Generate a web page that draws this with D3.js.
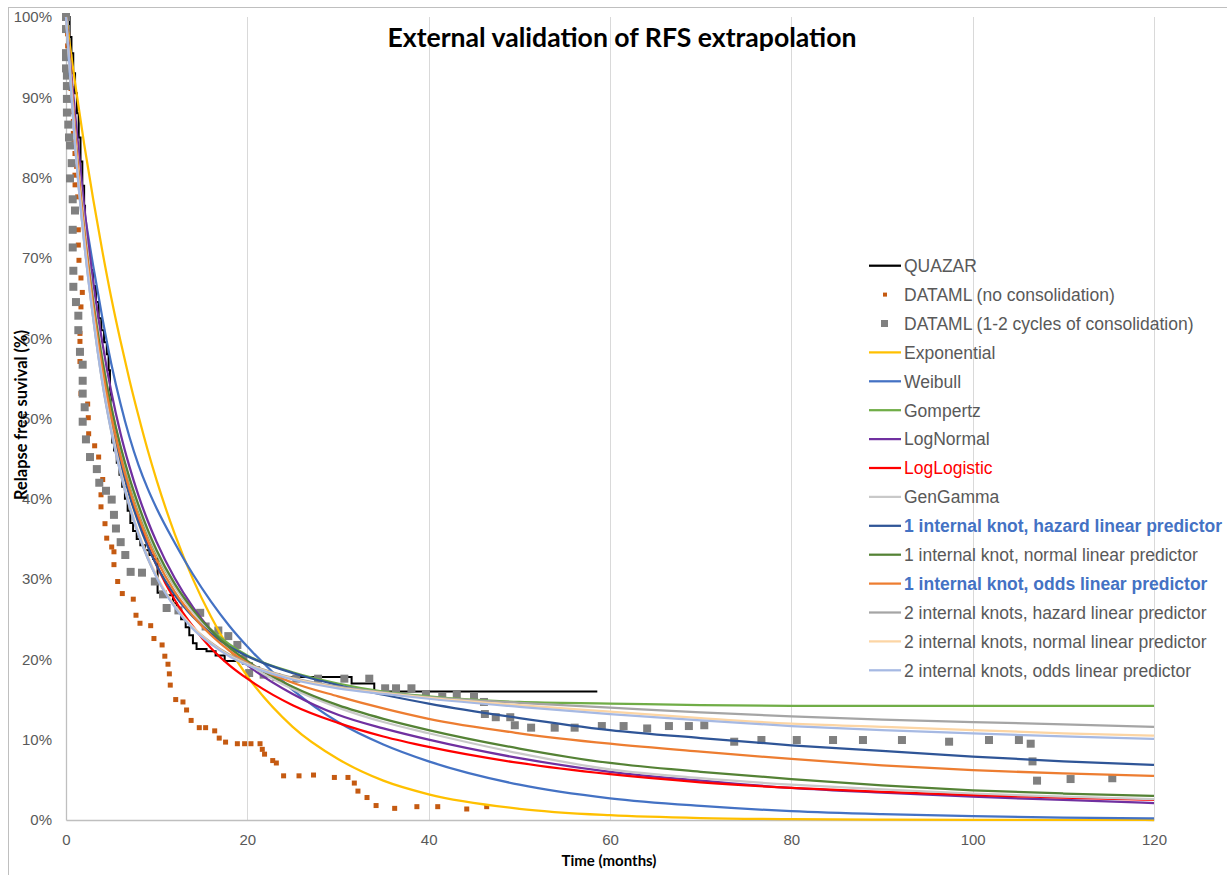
<!DOCTYPE html>
<html>
<head>
<meta charset="utf-8">
<script src="https://cdn.jsdelivr.net/npm/d3@7"></script>
<style>
  html, body { margin: 0; padding: 0; background: #ffffff; }
  svg { display: block; }
</style>
</head>
<body>
<svg id="chart" width="1227" height="875"></svg>
<script>
// ---------- Data ----------
// Time grid (months) for the fitted survival models
const months = [0,1,2,3,4,5,6,7,8,9,10,12,14,16,18,20,25,30,35,40,50,60,70,80,90,100,110,120];

// Relapse-free survival (%) of each fitted model on the grid above
const exponential = [100,91.8,84.2,77.3,70.9,65.0,59.7,54.8,50.3,46.1,42.3,35.6,30.0,25.3,21.3,17.9,11.6,7.6,4.9,3.2,1.4,0.6,0.24,0.1,0.05,0.02,0.01,0.0];
const weibull     = [100,84.5,76,69,62.6,56.8,51.9,47.7,44.2,41.3,38.8,34.5,30.6,27.2,24.2,21.6,16.2,12.2,9.4,7.3,4.4,2.7,1.75,1.1,0.72,0.47,0.31,0.21];
const gompertz    = [100,85.5,74.1,64.8,57.4,51.3,46.3,42.1,38.6,35.6,33.1,29.1,26.0,23.7,21.9,20.5,18.4,17.0,16.0,15.4,14.7,14.5,14.3,14.2,14.2,14.2,14.2,14.2];
const logNormal   = [100,88,76.5,67,59.5,53.3,48.2,44.0,40.4,37.3,34.6,30.1,26.5,23.6,21.2,19.3,15.7,13.1,11.4,10.0,7.7,6.0,4.9,4.0,3.4,2.9,2.5,2.1];
const logLogistic = [100,86,73.5,64,56.5,50.3,45.2,41.0,37.4,34.3,31.7,27.4,24.1,21.4,19.3,17.6,14.3,12.1,10.4,9.1,7.1,5.7,4.7,4.0,3.5,3.1,2.8,2.5];
const genGamma    = [100,86,74.5,65,57.5,51.5,46.5,42.4,38.9,35.9,33.3,29.1,25.9,23.3,21.2,19.5,16.3,14.0,12.2,10.8,8.3,6.3,5.2,4.4,3.8,3.3,2.9,2.6];
const knot1Hazard = [100,85,73,63.5,55.8,49.5,44.5,40.4,37.0,34.1,31.7,28.0,25.3,23.2,21.6,20.4,18.3,16.8,15.6,14.5,12.7,11.2,10.2,9.3,8.6,7.9,7.3,6.85];
const knot1Normal = [100,85,73.5,64.5,57.3,51.4,46.6,42.6,39.2,36.2,33.6,29.4,26.2,23.6,21.5,19.8,16.6,14.3,12.6,11.2,8.9,7.1,6.0,5.1,4.3,3.7,3.3,3.0];
const knot1Odds   = [100,85.5,73.5,64,56.3,50.2,45.3,41.2,37.8,34.9,32.4,28.4,25.4,23.0,21.1,19.6,17.1,15.4,13.9,12.6,10.8,9.5,8.5,7.6,6.8,6.2,5.8,5.5];
const knot2Hazard = [100,84,72,62.5,54.5,48.3,43.2,39.0,35.5,32.6,30.2,26.6,24.0,22.1,20.6,19.5,17.7,16.6,15.9,15.3,14.6,14.0,13.4,12.9,12.5,12.2,11.9,11.6];
const knot2Normal = [100,84.5,72.5,63,55,48.8,43.6,39.3,35.8,32.9,30.4,26.7,24.0,22.0,20.5,19.4,17.6,16.5,15.8,15.2,14.3,13.5,12.7,12.0,11.6,11.2,10.8,10.5];
const knot2Odds   = [100,84,72,62.5,54.6,48.4,43.3,39.1,35.6,32.7,30.2,26.5,23.8,21.9,20.4,19.3,17.5,16.4,15.7,15.1,14.1,13.2,12.4,11.7,11.2,10.8,10.4,10.1];

// QUAZAR Kaplan-Meier estimate (step after each time)
const quazarMonths = [0,0.4,0.6,0.8,1.0,1.2,1.4,1.6,1.8,2.0,2.1,2.2,2.4,2.7,3.0,3.3,3.6,3.9,4.2,4.5,4.7,4.85,4.95,5.1,5.3,5.6,5.9,6.2,6.5,6.8,7.1,7.4,7.8,8.2,8.7,9.2,9.6,10.1,10.6,11.8,12.2,12.7,13.2,13.6,14.0,14.4,15.5,16.5,17.5,19.5,20.5,21.3,22.0,23.0,31.5,34.0,58.6];
const quazarRfs    = [100,97.5,95.5,93,90.5,88,85,82,79,76.5,74.5,72,70,68.5,66.5,64.5,62.5,61,59.5,58,56,53,49,47,46,44.5,43,41.5,40,38.5,37,36,35,34.2,33.6,33.0,32.5,28.3,28.0,27.0,26.0,25.0,24.0,23.0,22.0,21.3,21.0,20.5,19.8,19.5,19.0,18.5,18.1,17.8,17.0,16.0,16.0];

// DATAML, no consolidation (digitised points)
const datamlNoMonths = [0.18,0.18,0.33,0.44,0.55,0.62,0.73,0.81,0.81,0.88,0.99,1.17,0.99,1.0,1.29,1.36,1.36,1.43,1.65,1.8,1.65,1.54,1.54,1.54,1.65,2.39,2.46,2.5,3.16,3.6,4.05,3.86,3.86,4.3,4.49,5.04,5.29,5.29,5.7,6.21,7.42,7.72,8.16,9.34,9.7,10.6,10.9,11.25,11.4,11.5,12.1,12.9,13.3,13.8,14.7,15.4,16.4,16.9,17.6,18.9,19.7,20.4,21.4,21.65,21.9,22.8,23.2,24.0,25.7,27.3,29.6,31.1,31.8,32.2,33.2,34.2,36.25,38.7,41.0,44.2,46.4];
const datamlNoRfs    = [97.9,96.4,95.0,93.2,91.1,89.7,88.2,87.0,85.5,84.5,83.0,81.4,80.3,79.1,77.6,73.5,71.6,69.7,67.5,65.7,63.9,60.6,59.6,57.1,53.1,51.8,50.1,48.1,46.6,45.2,42.4,40.5,39.0,36.9,35.1,34.0,33.4,31.8,29.7,28.2,27.5,25.5,24.5,24.2,22.6,21.8,20.4,19.4,18.2,16.8,15.0,14.7,13.7,12.4,11.5,11.5,11.1,10.2,9.7,9.5,9.5,9.5,9.5,8.8,8.2,7.4,7.1,5.5,5.5,5.6,5.3,5.3,4.6,3.6,2.8,1.8,1.45,1.66,1.66,1.37,1.66];

const datamlConsMonths = [0,0,0,0,0,0.1,0.1,0.1,0.1,0.25,0.33,0.44,0.63,0.44,0.74,0.99,0.74,0.74,0.81,0.81,1.1,1.36,1.36,1.54,1.84,1.84,1.84,2.06,1.84,2.2,2.65,3.4,3.67,4.41,5.04,5.29,5.51,6.03,6.54,7.13,8.38,9.8,10.7,11.1,12.4,14.8,15.4,16.8,17.9,18.9,19.55,20.2,21.8,23.2,25.4,27.8,30.7,33.45,35.2,36.4,38.1,39.7,41.5,43.1,45.0,46.1,46.2,47.4,49.0,49.5,51.3,53.9,56.1,59.1,61.5,64.1,66.5,68.7,70.4,73.7,76.7,80.6,84.6,87.9,92.2,97.4,101.8,105.1,106.4,106.6,107.1,110.8,115.4];
const datamlConsRfs    = [100,98.5,95.5,95.0,93.6,92.7,91.4,89.8,88.1,86.6,85.0,84.0,81.8,79.9,77.3,75.9,73.5,71.3,68.4,66.4,64.5,62.8,61.0,58.3,56.7,54.7,53.1,51.4,49.6,47.4,45.2,43.7,42.0,41.0,39.9,38.0,36.3,34.6,33.0,30.9,30.8,29.7,28.1,26.4,26.1,25.8,24.1,23.6,22.9,21.8,20.1,18.3,18.1,17.8,17.6,17.6,17.6,17.6,16.4,16.4,16.4,15.6,15.4,15.6,15.4,14.7,13.2,12.8,12.8,11.8,11.5,11.5,11.5,11.7,11.7,11.4,11.7,11.7,11.8,9.75,9.96,9.96,9.96,9.96,9.96,9.75,9.96,9.96,9.5,7.3,4.9,5.1,5.2];

// Axis ticks
const xTicks = [0,20,40,60,80,100,120];
const yTicks = [0,10,20,30,40,50,60,70,80,90,100];

// ---------- Series styling ----------
const modelSeries = [
  { name: "Exponential", values: exponential, color: "#FFC000" },
  { name: "Weibull", values: weibull, color: "#4472C4" },
  { name: "Gompertz", values: gompertz, color: "#70AD47" },
  { name: "LogNormal", values: logNormal, color: "#7030A0" },
  { name: "LogLogistic", values: logLogistic, color: "#FF0000", textColor: "#FF0000" },
  { name: "GenGamma", values: genGamma, color: "#C9C9C9" },
  { name: "1 internal knot, hazard linear predictor", values: knot1Hazard, color: "#2F5597", textColor: "#4472C4", bold: true },
  { name: "1 internal knot, normal linear predictor", values: knot1Normal, color: "#548235" },
  { name: "1 internal knot, odds linear predictor", values: knot1Odds, color: "#ED7D31", textColor: "#4472C4", bold: true },
  { name: "2 internal knots, hazard linear predictor", values: knot2Hazard, color: "#A5A5A5" },
  { name: "2 internal knots, normal linear predictor", values: knot2Normal, color: "#FCD5A4" },
  { name: "2 internal knots, odds linear predictor", values: knot2Odds, color: "#A6B9E3" }
];

// ---------- Layout ----------
const svg = d3.select("#chart");
const W = 1227, H = 875;
const plot = { left: 66, right: 1154, top: 17, bottom: 820 };

const x = d3.scaleLinear().domain([0, 120]).range([plot.left, plot.right]);
const y = d3.scaleLinear().domain([0, 100]).range([plot.bottom, plot.top]);

svg.append("rect").attr("width", W).attr("height", H).attr("fill", "#ffffff");

// chart frame
svg.append("rect")
  .attr("x", 8.5).attr("y", 7.5)
  .attr("width", W + 50).attr("height", H + 50)
  .attr("fill", "none").attr("stroke", "#BFBFBF").attr("stroke-width", 1);

// vertical gridlines
svg.append("g")
  .selectAll("line")
  .data(xTicks.filter(d => d > 0))
  .join("line")
  .attr("x1", d => Math.round(x(d)) + 0.5).attr("x2", d => Math.round(x(d)) + 0.5)
  .attr("y1", plot.top).attr("y2", plot.bottom)
  .attr("stroke", "#D9D9D9").attr("stroke-width", 1);

// axes
const tickFont = "'Liberation Sans', Arial, sans-serif";
const xAxis = svg.append("g")
  .attr("transform", `translate(0,${plot.bottom})`)
  .call(d3.axisBottom(x).tickValues(xTicks).tickSize(0).tickPadding(14).tickFormat(d3.format("d")));
xAxis.select(".domain").attr("stroke", "#BFBFBF").attr("stroke-width", 1.3);
xAxis.selectAll("text").attr("fill", "#595959").attr("font-size", 15).attr("font-family", tickFont);

const yAxis = svg.append("g")
  .attr("transform", `translate(${plot.left},0)`)
  .call(d3.axisLeft(y).tickValues(yTicks).tickSize(0).tickPadding(14).tickFormat(d => d + "%"));
yAxis.select(".domain").attr("stroke", "#BFBFBF").attr("stroke-width", 1.3);
yAxis.selectAll("text").attr("fill", "#595959").attr("font-size", 15).attr("font-family", tickFont);

// ---------- Marks ----------
const g = svg.append("g");

// QUAZAR Kaplan-Meier
const quazar = quazarMonths.map((t, i) => [t, quazarRfs[i]]);
g.append("path")
  .datum(quazar)
  .attr("fill", "none").attr("stroke", "#000000").attr("stroke-width", 2)
  .attr("d", d3.line().x(d => x(d[0])).y(d => y(d[1])).curve(d3.curveStepAfter));

// DATAML no consolidation
const datamlNo = datamlNoMonths.map((t, i) => [t, datamlNoRfs[i]]);
g.append("g").selectAll("rect")
  .data(datamlNo).join("rect")
  .attr("x", d => x(d[0]) - 2.5).attr("y", d => y(d[1]) - 2.5)
  .attr("width", 5).attr("height", 5).attr("fill", "#C55A11");

// DATAML 1-2 cycles of consolidation
const datamlCons = datamlConsMonths.map((t, i) => [t, datamlConsRfs[i]]);
g.append("g").selectAll("rect")
  .data(datamlCons).join("rect")
  .attr("x", d => x(d[0]) - 4).attr("y", d => y(d[1]) - 4)
  .attr("width", 8).attr("height", 8).attr("fill", "#808080");

// fitted models
const modelLine = d3.line()
  .x((d, i) => x(months[i]))
  .y(d => y(d))
  .curve(d3.curveMonotoneX);

g.append("g").selectAll("path")
  .data(modelSeries).join("path")
  .attr("fill", "none")
  .attr("stroke", d => d.color)
  .attr("stroke-width", 2.25)
  .attr("d", d => modelLine(d.values));

// ---------- Title ----------
const titleFont = "Lato, 'Open Sans', sans-serif";
function fitWidth(sel, target) {
  const w = sel.node().getComputedTextLength();
  const fs = parseFloat(sel.attr("font-size"));
  sel.attr("font-size", (fs * target / w).toFixed(2));
}

const title = svg.append("text")
  .attr("x", 622).attr("y", 47)
  .attr("text-anchor", "middle")
  .attr("font-family", titleFont).attr("font-weight", "bold")
  .attr("font-size", 24).attr("fill", "#000000")
  .text("External validation of RFS extrapolation");
fitWidth(title, 469);

const xTitle = svg.append("text")
  .attr("x", 609).attr("y", 866)
  .attr("text-anchor", "middle")
  .attr("font-family", titleFont).attr("font-weight", "bold")
  .attr("font-size", 14).attr("fill", "#000000")
  .text("Time (months)");
fitWidth(xTitle, 95);

const yTitle = svg.append("text")
  .attr("transform", "translate(27,415) rotate(-90)")
  .attr("text-anchor", "middle")
  .attr("font-family", titleFont).attr("font-weight", "bold")
  .attr("font-size", 14).attr("fill", "#000000")
  .text("Relapse free suvival (%)");
fitWidth(yTitle, 170);

// ---------- Legend ----------
const legendItems = [
  { name: "QUAZAR", kind: "line", color: "#000000" },
  { name: "DATAML (no consolidation)", kind: "smallSquare", color: "#C55A11" },
  { name: "DATAML (1-2 cycles of consolidation)", kind: "square", color: "#808080" }
].concat(modelSeries.map(s => ({ name: s.name, kind: "line", color: s.color, textColor: s.textColor, bold: s.bold })));

const legend = svg.append("g").attr("font-family", tickFont);
const legendRow = legend.selectAll("g")
  .data(legendItems).join("g")
  .attr("transform", (d, i) => `translate(0,${265.7 + i * 28.9})`);

legendRow.filter(d => d.kind === "line").append("line")
  .attr("x1", 869).attr("x2", 901).attr("y1", 0).attr("y2", 0)
  .attr("stroke", d => d.color).attr("stroke-width", 2.25);
legendRow.filter(d => d.kind === "smallSquare").append("rect")
  .attr("x", 883).attr("y", -2).attr("width", 4).attr("height", 4).attr("fill", d => d.color);
legendRow.filter(d => d.kind === "square").append("rect")
  .attr("x", 881).attr("y", -3.5).attr("width", 7).attr("height", 7).attr("fill", d => d.color);

legendRow.append("text")
  .attr("x", 904).attr("y", 0).attr("dy", "0.36em")
  .attr("font-size", 17.5)
  .attr("font-weight", d => d.bold ? "bold" : "normal")
  .attr("fill", d => d.textColor || "#595959")
  .text(d => d.name);
</script>
</body>
</html>
